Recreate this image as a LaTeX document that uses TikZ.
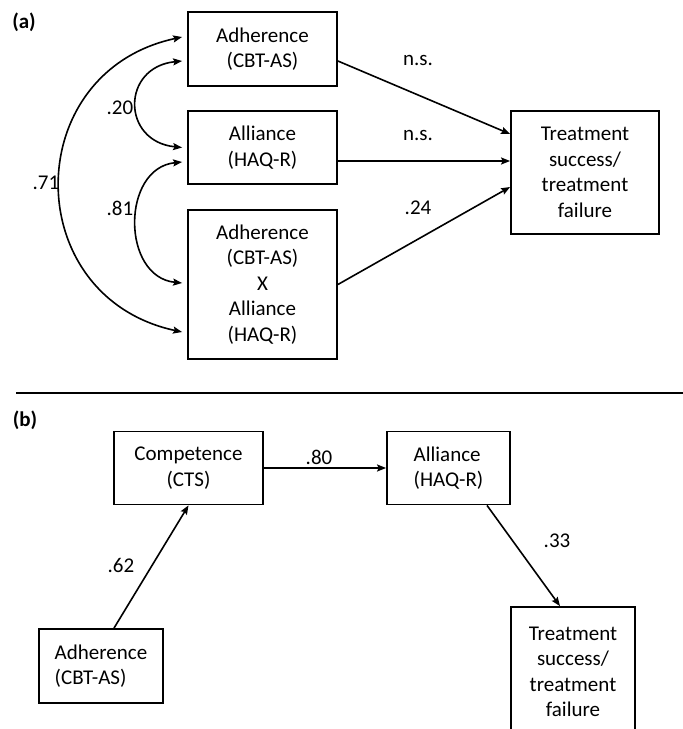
\documentclass[tikz,border=0pt]{standalone}
\usepackage{fontspec}
\setmainfont{Carlito}
\usetikzlibrary{arrows.meta,calc}
\begin{document}
\begin{tikzpicture}[x=1pt,y=-1pt,
  txt/.style={font=\fontsize{21}{25.5}\selectfont},
  box/.style={txt, draw, line width=1.8pt, inner sep=0pt, align=center},
  lbl/.style={txt, inner sep=0pt},
  arr/.style={line width=1.6pt, -{Stealth[length=9pt,width=7pt,inset=1.5pt]}},
  darr/.style={line width=1.6pt, {Stealth[length=9pt,width=7pt,inset=1.5pt]}-{Stealth[length=9pt,width=7pt,inset=1.5pt]}},
]
\useasboundingbox (0,0) rectangle (683,729);
\clip (0,0) rectangle (683,729);

% ---------- (a) ----------
\node[lbl, font=\fontsize{21}{25.5}\selectfont\bfseries] (la) at (24,22) {(a)};

\node[box, minimum width=149pt, minimum height=74pt] (A1) at (262.5,49) {Adherence\\(CBT-AS)};
\node[box, minimum width=149pt, minimum height=73pt] (A2) at (262.5,147.5) {Alliance\\(HAQ-R)};
\node[box, minimum width=149pt, minimum height=149pt] (A3) at (262.5,284.5) {Adherence\\(CBT-AS)\\X\\Alliance\\(HAQ-R)};
\node[box, minimum width=148pt, minimum height=123pt] (T) at (585,172.5) {Treatment\\success/\\treatment\\failure};

\draw[arr] ([yshift=-12pt]A1.east) -- ([yshift=38.5pt]T.west);
\draw[arr] ([yshift=-13.5pt]A2.east) -- ([yshift=11.5pt]T.west);
\draw[arr] (A3.east) -- ([yshift=-14.5pt]T.west);

\draw[darr] ([xshift=-5pt,yshift=12pt]A1.west) .. controls +(-163,35) and +(-163,-35) .. ([xshift=-5pt,yshift=-47.5pt]A3.west);
\draw[darr] ([xshift=-5pt,yshift=-12pt]A1.west) .. controls +(-61,6) and +(-61,-6) .. ([xshift=-5pt]A2.west);
\draw[darr] ([xshift=-5pt,yshift=-14.5pt]A2.west) .. controls +(-61,6) and +(-61,-6) .. ([xshift=-5pt,yshift=1.5pt]A3.west);

\node[lbl] (l71) at (46,183) {.71};
\node[lbl] (l20) at (120,108) {.20};
\node[lbl] (l81) at (120,208) {.81};
\node[lbl] (lns1) at (418,60) {n.s.};
\node[lbl] (lns2) at (418,135) {n.s.};
\node[lbl] (l24) at (418,208) {.24};

% separator
\coordinate (L1) at (16,393);
\coordinate (L2) at (683,393);
\draw[line width=2pt] (L1) -- (L2);

% ---------- (b) ----------
\node[lbl, font=\fontsize{21}{25.5}\selectfont\bfseries] (lb) at (25,420) {(b)};

\node[box, minimum width=149pt, minimum height=73pt] (C) at (188.5,468) {Competence\\(CTS)};
\node[box, align=left, minimum width=123pt, minimum height=73pt] (AL) at (448.5,468) {Alliance\\(HAQ-R)};
\node[box, align=left, minimum width=124pt, minimum height=74pt] (AD) at (101,666) {Adherence\\(CBT-AS)};
\node[box, minimum width=124pt, minimum height=130pt] (TB) at (573,672) {Treatment\\success/\\treatment\\failure};

\draw[arr] (C.east) -- (AL.west);
\draw[arr] ([xshift=13pt]AD.north) -- (C.south);
\draw[arr] ([xshift=38.5pt]AL.south) -- ([xshift=-13pt]TB.north);

\node[lbl] (l80) at (319,457) {.80};
\node[lbl] (l62) at (121,565) {.62};
\node[lbl] (l33) at (557,541) {.33};
\end{tikzpicture}
\end{document}
